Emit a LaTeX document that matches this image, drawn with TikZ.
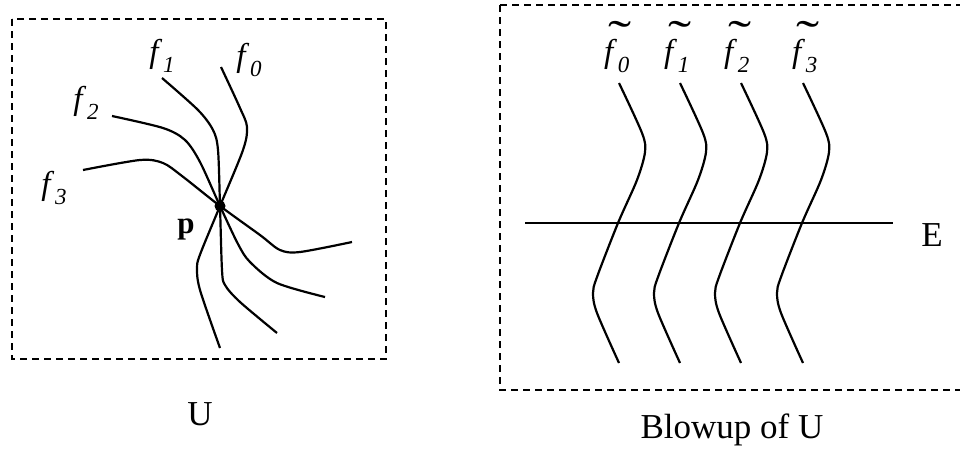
\documentclass[tikz,border=0pt]{standalone}
\usepackage{fontspec}
\setmainfont{Liberation Serif}
\usepackage{graphicx}
\newcommand{\flab}[1]{\textit{f}\kern0.02em\raisebox{-0.32em}{\fontsize{23}{23}\selectfont\textit{#1}}}
\newcommand{\tlab}[1]{\vbox{\offinterlineskip\hbox{\kern0.14em\scalebox{2.1}[1.4]{\char"02DC}}\kern-0.4em\hbox{\flab{#1}}}}
\begin{document}
\begin{tikzpicture}[x=1pt,y=-1pt,
  frame/.style={line width=1.6pt, dash pattern=on 7pt off 5pt},
  fib/.style={line width=2.2pt, smooth, tension=0.5},
  lab/.style={font=\fontsize{33}{36}\selectfont, inner sep=0pt},
  captxt/.style={font=\fontsize{35}{40}\selectfont, inner sep=0pt}]
\useasboundingbox (0,0) rectangle (960,451);
% frames
\draw[frame] (12,19) rectangle (386,359);
\draw[frame] (500,5) -- (970,5);
\draw[frame] (500,5) -- (500,390) -- (970,390);
% point p
\node[circle, fill, inner sep=0pt, minimum size=11pt] (p) at (220,206) {};
% curves through p
\draw[fib] plot coordinates {(221,67) (240,108) (247,127) (243,150) (220,206) (201,252) (197,267) (200,290) (220,348)};
\draw[fib] plot coordinates {(162,78) (198,110) (213,130) (218,150) (220,206) (222,270) (225,285) (240,302) (277,333)};
\draw[fib] plot coordinates {(112,116) (163,128) (185,140) (200,162) (220,206) (238,244) (250,262) (277,283) (325,297)};
\draw[fib] plot coordinates {(83,170) (140,160) (163,163) (182,176) (220,206) (260,235) (280,250) (300,252) (352,242)};
% labels
\node[lab] (f1) at (162,56) {\flab{1}};
\node[lab] (f0) at (249,60) {\flab{0}};
\node[lab] (f2) at (86,103) {\flab{2}};
\node[lab] (f3) at (54,188) {\flab{3}};
\node[lab, font=\fontsize{31}{34}\selectfont\bfseries] (pl) at (186,229) {p};
\node[captxt] (U) at (200,414) {U};
% right side
\coordinate (e1) at (525,223);
\coordinate (e2) at (893,223);
\draw[line width=2.2pt] (e1) -- (e2);
\node[captxt] (E) at (932,235) {E};
\foreach \s [count=\i from 0] in {0,61,122,184}{
  \draw[fib, xshift=\s pt] plot coordinates {(619,83) (642,133) (645,152) (637,180) (618,223) (597,277) (593,293) (597,313) (619,363)};
}
\node[lab] (g0) at (618,47) {\tlab{0}};
\node[lab] (g1) at (678,47) {\tlab{1}};
\node[lab] (g2) at (738,47) {\tlab{2}};
\node[lab] (g3) at (806,47) {\tlab{3}};
\node[captxt] (B) at (732,430) {Blowup of U};
\end{tikzpicture}
\end{document}
